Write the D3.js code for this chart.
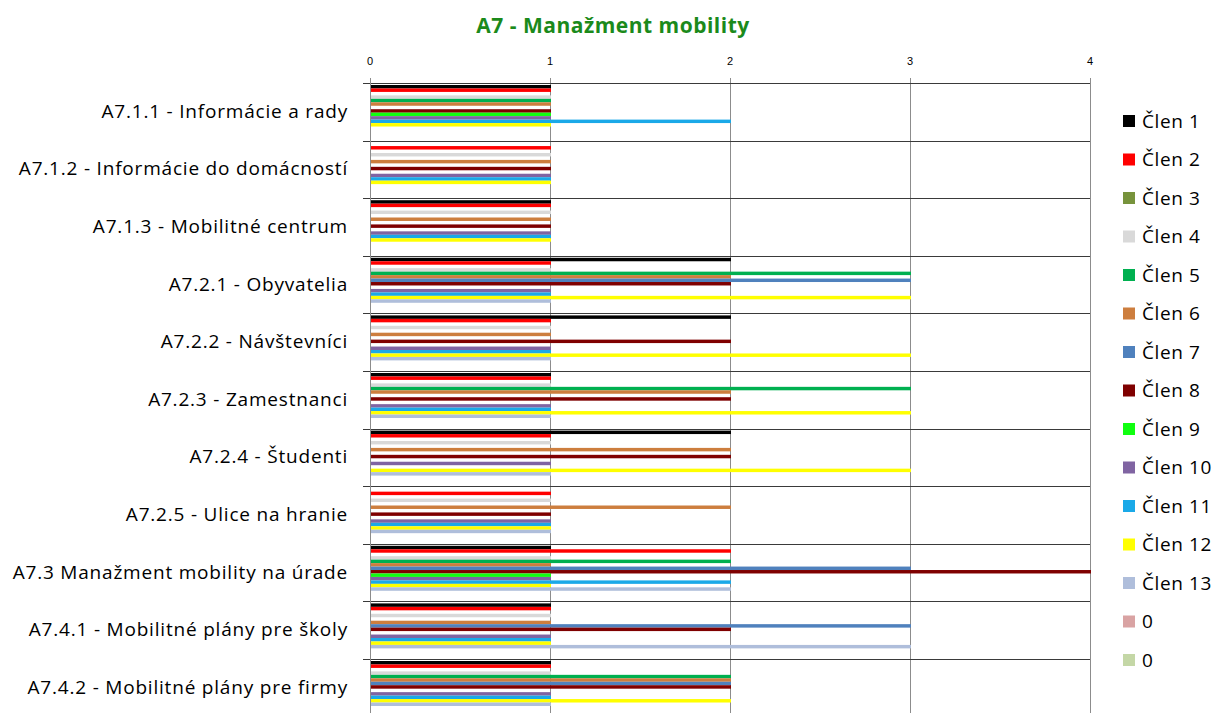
<!DOCTYPE html>
<html><head><meta charset="utf-8">
<script src="https://cdn.jsdelivr.net/npm/d3@7"></script>
<style>body{margin:0;background:#fff}</style>
</head><body>
<svg id="c" width="1217" height="713"></svg>
<script>
const categories = ["A7.1.1 - Informácie a rady","A7.1.2 - Informácie do domácností","A7.1.3 - Mobilitné centrum","A7.2.1 - Obyvatelia","A7.2.2 - Návštevníci","A7.2.3 - Zamestnanci","A7.2.4 - Študenti","A7.2.5 - Ulice na hranie","A7.3 Manažment mobility na úrade","A7.4.1 - Mobilitné plány pre školy","A7.4.2 - Mobilitné plány pre firmy"];
const seriesNames = ["Člen 1","Člen 2","Člen 3","Člen 4","Člen 5","Člen 6","Člen 7","Člen 8","Člen 9","Člen 10","Člen 11","Člen 12","Člen 13","0","0"];
const seriesColors = ["#000000","#FF0000","#77933C","#D9D9D9","#00B050","#CD7E3E","#4F81BD","#7F0000","#10FF10","#8064A2","#1AA9E8","#FFFF00","#AFBEDB","#D9A3A3","#C4D7A6"];
const clen1  = [1,0,1,2,2,1,2,0,1,1,1];
const clen2  = [1,1,1,1,1,1,1,1,2,1,1];
const clen3  = [0,0,0,0,0,0,0,0,0,0,0];
const clen4  = [1,1,1,1,1,1,1,1,1,1,1];
const clen5  = [1,0,0,3,0,3,0,0,2,0,2];
const clen6  = [1,1,1,2,1,2,2,2,1,1,2];
const clen7  = [0,0,0,3,0,0,0,0,3,3,2];
const clen8  = [1,1,1,2,2,2,2,1,4,2,2];
const clen9  = [1,0,0,0,0,0,0,0,1,0,0];
const clen10 = [1,1,1,1,1,1,1,1,1,1,1];
const clen11 = [2,1,1,1,1,1,0,1,2,1,1];
const clen12 = [1,1,1,3,3,3,3,1,1,1,2];
const clen13 = [0,0,0,1,1,1,1,1,2,3,1];
const zeroA  = [0,0,0,0,0,0,0,0,0,0,0];
const zeroB  = [0,0,0,0,0,0,0,0,0,0,0];
const xTicks = [0,1,2,3,4];
const seriesValues = [clen1,clen2,clen3,clen4,clen5,clen6,clen7,clen8,clen9,clen10,clen11,clen12,clen13,zeroA,zeroB];

const svg = d3.select("#c");
const pLeft = 370, pRight = 1090, pTop = 83, band = 57.6;
const x = d3.scaleLinear().domain([0,4]).range([pLeft,pRight]);
const y = d3.scaleBand().domain(categories).range([pTop, pTop + band*categories.length]);
const inner = d3.scaleBand().domain(d3.range(seriesNames.length)).range([2, 2 + 3.46*seriesNames.length]);

// title
svg.append("text").attr("x",613).attr("y",33).attr("text-anchor","middle")
  .attr("font-family","Open Sans, sans-serif").attr("font-weight","bold").attr("font-size",21)
  .attr("letter-spacing",0.5).attr("fill","#1B8A1B").text("A7 - Manažment mobility");

// vertical gridlines
svg.append("g").selectAll("line").data(xTicks).join("line")
  .attr("x1",d=>Math.round(x(d))+0.5).attr("x2",d=>Math.round(x(d))+0.5).attr("y1",pTop-5).attr("y2",713)
  .attr("stroke","#8C8C8C").attr("stroke-width",1);

// top axis labels
svg.append("g").selectAll("text").data(xTicks).join("text")
  .attr("x",d=>x(d)).attr("y",65).attr("text-anchor","middle")
  .attr("font-family","Liberation Sans, Arial, sans-serif").attr("font-size",11).attr("fill","#000").text(d=>d);

// horizontal category gridlines
const bounds = categories.map(c=>y(c)).concat([y(categories[categories.length-1])+y.bandwidth()]);
svg.append("g").selectAll("line").data(bounds).join("line")
  .attr("x1",pLeft-7).attr("x2",pRight).attr("y1",d=>Math.round(d)+0.5).attr("y2",d=>Math.round(d)+0.5)
  .attr("stroke","#3A3A3A").attr("stroke-width",1);

// bars
const g = svg.append("g");
seriesValues.forEach((vals, si) => {
  g.append("g").selectAll("rect").data(vals.map((v,ci)=>({v,c:categories[ci]}))).join("rect")
    .attr("x",x(0)+1).attr("y",d=>y(d.c)+inner(si))
    .attr("width",d=>Math.max(0,x(d.v)-x(0)))
    .attr("height",inner.bandwidth())
    .attr("fill",seriesColors[si]);
});

// left axis line
svg.append("line").attr("x1",pLeft+0.5).attr("x2",pLeft+0.5).attr("y1",pTop).attr("y2",713)
  .attr("stroke","#8C8C8C");

// category labels
svg.append("g").selectAll("text").data(categories).join("text")
  .attr("x",348).attr("y",c=>y(c)+y.bandwidth()/2+6).attr("text-anchor","end")
  .attr("font-family","Open Sans, sans-serif").attr("font-size",19).attr("letter-spacing",0.8)
  .attr("fill","#000").text(c=>c);

// legend
const lg = svg.append("g");
seriesNames.forEach((n,i)=>{
  const yy = 121 + i*38.5;
  lg.append("rect").attr("x",1123).attr("y",yy-6).attr("width",12).attr("height",12).attr("fill",seriesColors[i]);
  lg.append("text").attr("x",1142).attr("y",yy+6.5).attr("font-family","Open Sans, sans-serif").attr("font-size",19)
    .attr("letter-spacing",0.6).attr("fill","#000").text(n);
});
</script>
</body></html>
